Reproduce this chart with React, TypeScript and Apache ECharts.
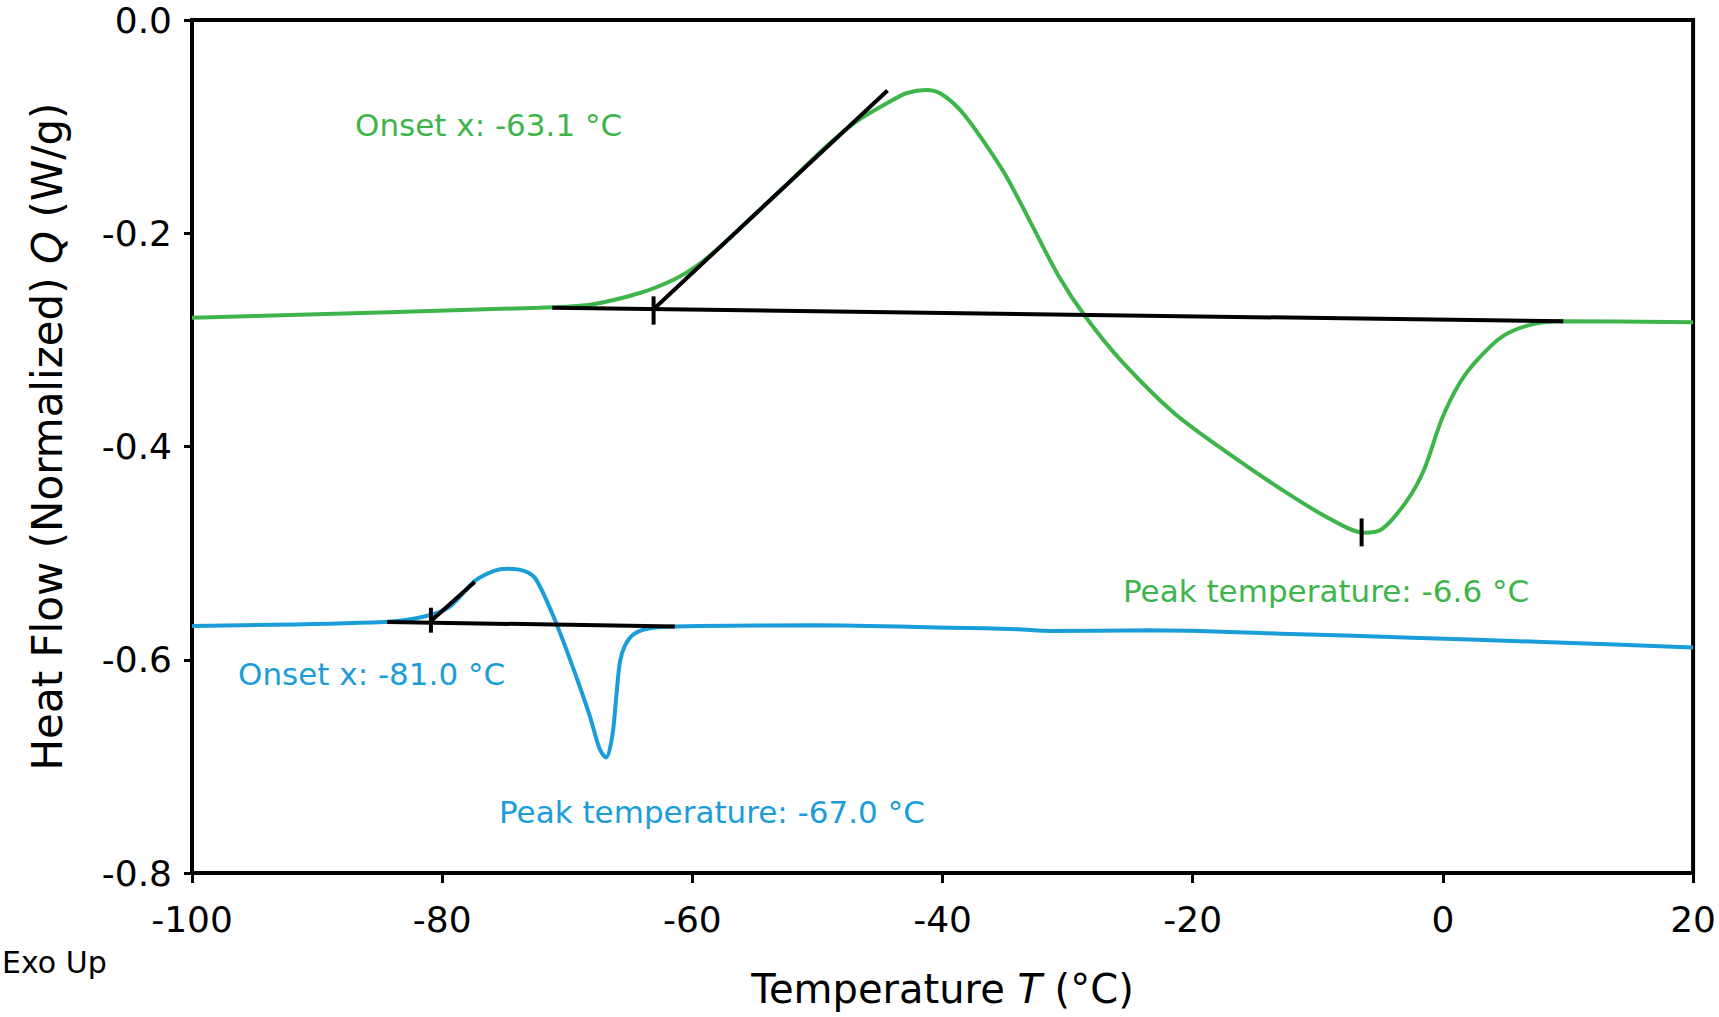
import React from 'react';
import * as echarts from 'echarts';

// temperatures in °C, heat flow in W/g
const greenTemps = [
  -100, -72.2, -68.2, -64.2, -61.5, -59.7, -57.6, -54.9, -52.2, -49.6, -46.9,
  -44.2, -42.9, -41.3, -40.2, -38.6, -36.8, -34.9, -32.8, -30.7, -28.6, -25.8,
  -21.5, -17.2, -12.9, -9.2, -6.3, -4.9, -2.9, -1.5, -0.1, 1.35, 2.77, 4.77,
  7.05, 9.6, 20,
];
const greenFlow = [
  -0.2792, -0.2698, -0.267, -0.256, -0.2436, -0.2311, -0.2108, -0.181, -0.1515,
  -0.1218, -0.0953, -0.0765, -0.0687, -0.0656, -0.0687, -0.0843, -0.1124,
  -0.1468, -0.1936, -0.2405, -0.2779, -0.3185, -0.3685, -0.406, -0.4403,
  -0.4668, -0.4809, -0.4778, -0.4512, -0.4215, -0.3747, -0.3403, -0.3185,
  -0.2967, -0.2857, -0.2826, -0.2835,
];

const blueTemps = [
  -100, -84.6, -81.5, -79.5, -77.4, -75.9, -74.8, -73.4, -72.5, -70.9, -69.3,
  -68.2, -67.4, -66.9, -66.4, -66.1, -65.8, -65.4, -64.7, -63.4, -61.4, -59.4,
  -50.2, -39.3, -34.0, -31.4, -23.5, -13.0, -2.5, 8.0, 20,
];
const blueFlow = [
  -0.5683, -0.5645, -0.5596, -0.5512, -0.5262, -0.5168, -0.5146, -0.5168,
  -0.5246, -0.5652, -0.6152, -0.6527, -0.684, -0.6916, -0.6714, -0.637,
  -0.6027, -0.5871, -0.5761, -0.5705, -0.5689, -0.5683, -0.5677, -0.5699,
  -0.5714, -0.573, -0.5724, -0.5755, -0.5793, -0.5833, -0.5886,
];

// analysis construction lines: [T, Q] pairs
const greenBaseline = [[-71.2, -0.2698], [9.62, -0.2826]];
const greenTangent = [[-63.0, -0.2701], [-44.4, -0.0662]];
const greenOnsetTick = [[-63.1, -0.2592], [-63.1, -0.2857]];
const greenPeakTick = [[-6.5, -0.4675], [-6.5, -0.4937]];
const blueBaseline = [[-84.4, -0.5645], [-61.4, -0.5689]];
const blueTangent = [[-80.9, -0.5637], [-77.4, -0.5271]];
const blueOnsetTick = [[-80.9, -0.5512], [-80.9, -0.5746]];

const xTicks = { min: -100, max: 20, interval: 20 };
const yTicks = { min: -0.8, max: 0, interval: 0.2 };

const GREEN = '#3db54a';
const BLUE = '#1b9dd9';
const FONT = 'DejaVu Sans';

const zip = (xs: number[], ys: number[]) => xs.map((x, i) => [x, ys[i]]);

const blackLine = (data: number[][]) => ({
  type: 'line' as const,
  data,
  symbol: 'none',
  silent: true,
  lineStyle: { color: '#000', width: 4 },
  z: 5,
});

const noteText = (text: string, x: number, y: number, color: string, size = 31) => ({
  type: 'text' as const,
  x,
  y,
  silent: true,
  style: {
    text,
    fill: color,
    font: `${size}px "${FONT}"`,
    textAlign: 'left',
    textVerticalAlign: 'middle',
  },
});

export default function App() {
  const ref = React.useRef<HTMLDivElement>(null);

  React.useEffect(() => {
    if (!ref.current) return;
    const chart = echarts.init(ref.current, undefined, { renderer: 'svg' });

    chart.setOption({
      animation: false,
      backgroundColor: '#fff',
      grid: {
        left: 192,
        right: 25,
        top: 20,
        bottom: 144,
        show: true,
        borderColor: '#000',
        borderWidth: 4,
      },
      xAxis: {
        type: 'value',
        ...xTicks,
        axisLine: { show: true, onZero: false, lineStyle: { color: '#000', width: 4 } },
        axisTick: { show: true, inside: false, length: 10, lineStyle: { color: '#000', width: 3 } },
        axisLabel: { color: '#000', fontSize: 36, fontFamily: FONT, margin: 28 },
        splitLine: { show: false },
        name: 'Temperature {i|T} (°C)',
        nameLocation: 'middle',
        nameGap: 96,
        nameTextStyle: {
          color: '#000',
          fontSize: 40,
          fontFamily: FONT,
          rich: { i: { fontStyle: 'italic', fontSize: 40, fontFamily: FONT, color: '#000' } },
        },
      },
      yAxis: {
        type: 'value',
        ...yTicks,
        axisLine: { show: true, onZero: false, lineStyle: { color: '#000', width: 4 } },
        axisTick: { show: true, inside: false, length: 8, lineStyle: { color: '#000', width: 3 } },
        axisLabel: {
          color: '#000',
          fontSize: 36,
          lineHeight: 36,
          fontFamily: FONT,
          margin: 20,
          formatter: (v: number) => v.toFixed(1),
        },
        splitLine: { show: false },
        name: 'Heat Flow (Normalized) {i|Q} (W/g)',
        nameLocation: 'middle',
        nameGap: 124,
        nameRotate: 90,
        nameTextStyle: {
          color: '#000',
          fontSize: 42,
          fontFamily: FONT,
          padding: [0, 0, 0, 20],
          rich: { i: { fontStyle: 'italic', fontSize: 42, fontFamily: FONT, color: '#000' } },
        },
      },
      series: [
        {
          type: 'line',
          data: zip(greenTemps, greenFlow),
          symbol: 'none',
          smooth: 0.3,
          lineStyle: { color: GREEN, width: 4 },
          z: 3,
        },
        {
          type: 'line',
          data: zip(blueTemps, blueFlow),
          symbol: 'none',
          smooth: 0.3,
          lineStyle: { color: BLUE, width: 4 },
          z: 3,
        },
        blackLine(greenBaseline),
        blackLine(greenTangent),
        blackLine(greenOnsetTick),
        blackLine(greenPeakTick),
        blackLine(blueBaseline),
        blackLine(blueTangent),
        blackLine(blueOnsetTick),
      ],
      graphic: [
        noteText('Onset x: -63.1 °C', 355, 125, GREEN),
        noteText('Peak temperature: -6.6 °C', 1123, 591, GREEN),
        noteText('Onset x: -81.0 °C', 238, 674, BLUE),
        noteText('Peak temperature: -67.0 °C', 499, 812, BLUE),
        noteText('Exo Up', 2, 962, '#000', 30),
      ],
    });

    return () => chart.dispose();
  }, []);

  return (
    <div
      ref={ref}
      style={{ position: 'absolute', left: 0, top: 0, width: 1719, height: 1017 }}
    />
  );
}
